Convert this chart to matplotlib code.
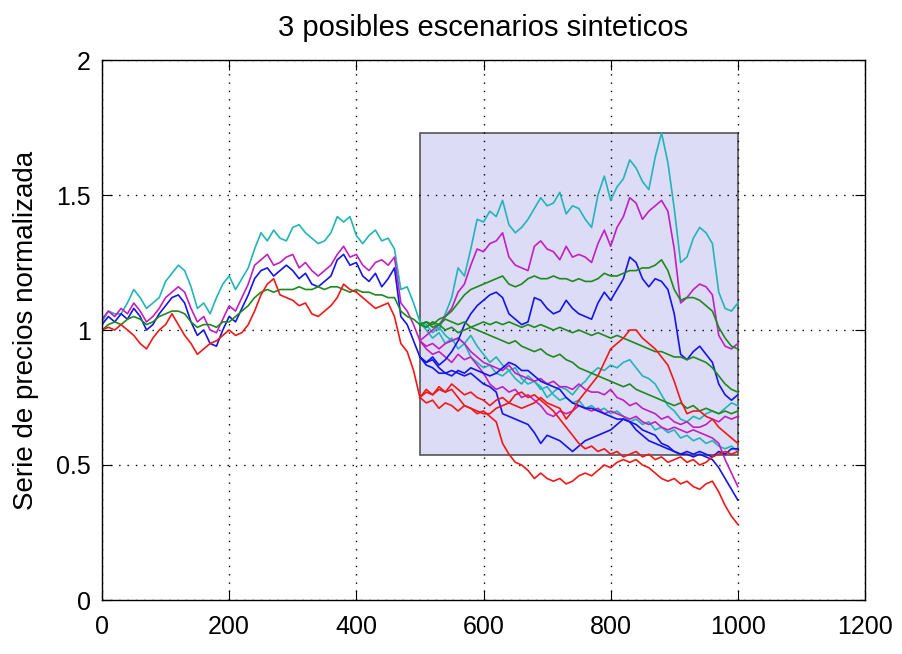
import numpy as np
import matplotlib
matplotlib.use("Agg")
import matplotlib.pyplot as plt
from matplotlib.patches import Rectangle

plt.rcParams['font.family'] = ['Liberation Sans', 'DejaVu Sans']

step = 10

# Common history, t = 0..500
hist_cyan = [1.03, 1.07, 1.06, 1.06, 1.10, 1.15, 1.12, 1.08, 1.10, 1.12, 1.18, 1.21, 1.24, 1.22, 1.16, 1.08,
             1.10, 1.06, 1.12, 1.17, 1.20, 1.15, 1.19, 1.23, 1.30, 1.36, 1.33, 1.37, 1.34, 1.33, 1.38, 1.39,
             1.36, 1.34, 1.32, 1.33, 1.36, 1.42, 1.40, 1.42, 1.35, 1.32, 1.35, 1.37, 1.33, 1.34, 1.30, 1.15,
             1.16, 1.10, 1.03]
hist_magenta = [1.04, 1.07, 1.05, 1.08, 1.06, 1.10, 1.07, 1.03, 1.05, 1.08, 1.12, 1.14, 1.16, 1.14, 1.08, 1.03,
                1.05, 1.00, 0.99, 1.04, 1.09, 1.07, 1.12, 1.17, 1.24, 1.26, 1.28, 1.24, 1.25, 1.27, 1.28, 1.23,
                1.25, 1.22, 1.20, 1.22, 1.24, 1.28, 1.31, 1.27, 1.28, 1.24, 1.22, 1.25, 1.26, 1.24, 1.27, 1.10,
                1.07, 1.02, 0.96]
hist_blue = [1.02, 1.05, 1.03, 1.06, 1.04, 1.08, 1.05, 1.00, 1.02, 1.06, 1.09, 1.12, 1.13, 1.10, 1.03, 0.98,
             1.00, 0.95, 0.94, 1.00, 1.05, 1.03, 1.08, 1.13, 1.19, 1.22, 1.23, 1.20, 1.22, 1.24, 1.22, 1.19,
             1.21, 1.17, 1.16, 1.18, 1.20, 1.26, 1.28, 1.24, 1.25, 1.20, 1.18, 1.21, 1.16, 1.19, 1.23, 1.05,
             1.02, 0.96, 0.90]
hist_green = [1.00, 1.02, 1.03, 1.02, 1.04, 1.05, 1.04, 1.02, 1.03, 1.05, 1.06, 1.07, 1.07, 1.06, 1.03, 1.01,
              1.02, 1.02, 1.01, 1.03, 1.03, 1.05, 1.07, 1.09, 1.12, 1.14, 1.15, 1.14, 1.15, 1.15, 1.15, 1.16,
              1.15, 1.15, 1.16, 1.15, 1.16, 1.16, 1.15, 1.14, 1.15, 1.14, 1.14, 1.13, 1.13, 1.12, 1.12, 1.07,
              1.05, 1.04, 1.02]
hist_red = [1.00, 1.01, 1.00, 1.02, 1.00, 0.98, 0.95, 0.93, 0.97, 1.00, 1.02, 1.06, 1.02, 0.98, 0.95, 0.91,
            0.93, 0.95, 0.96, 0.98, 1.00, 0.98, 0.99, 1.02, 1.07, 1.13, 1.17, 1.19, 1.13, 1.12, 1.11, 1.09,
            1.10, 1.06, 1.05, 1.07, 1.09, 1.12, 1.17, 1.15, 1.14, 1.12, 1.10, 1.08, 1.09, 1.10, 1.05, 0.95,
            0.92, 0.85, 0.75]

# Three synthetic continuations per series, t = 500..1000
cyan_a = [1.03, 1.01, 1.03, 1.00, 1.06, 1.12, 1.23, 1.20, 1.30, 1.41, 1.40, 1.44, 1.42, 1.48, 1.39, 1.36,
          1.38, 1.41, 1.45, 1.49, 1.46, 1.47, 1.51, 1.43, 1.46, 1.45, 1.41, 1.38, 1.50, 1.57, 1.48, 1.53,
          1.56, 1.63, 1.60, 1.55, 1.52, 1.64, 1.73, 1.62, 1.45, 1.25, 1.27, 1.34, 1.38, 1.36, 1.32, 1.14,
          1.08, 1.07, 1.10]
cyan_b = [1.03, 1.00, 0.97, 0.99, 0.95, 0.97, 0.93, 0.95, 0.90, 0.88, 0.86, 0.87, 0.84, 0.83, 0.85, 0.82,
          0.80, 0.83, 0.81, 0.79, 0.75, 0.77, 0.79, 0.78, 0.76, 0.79, 0.81, 0.84, 0.86, 0.85, 0.87, 0.86,
          0.88, 0.89, 0.86, 0.83, 0.82, 0.80, 0.76, 0.72, 0.70, 0.67, 0.66, 0.68, 0.67, 0.69, 0.70, 0.69,
          0.71, 0.73, 0.72]
cyan_c = [1.03, 1.02, 0.99, 1.01, 0.98, 0.96, 0.97, 0.95, 0.98, 0.94, 0.91, 0.88, 0.90, 0.87, 0.85, 0.86,
          0.82, 0.80, 0.81, 0.78, 0.79, 0.76, 0.74, 0.75, 0.73, 0.74, 0.71, 0.72, 0.70, 0.71, 0.69, 0.70,
          0.68, 0.66, 0.67, 0.65, 0.66, 0.63, 0.64, 0.62, 0.63, 0.60, 0.61, 0.59, 0.60, 0.58, 0.59, 0.57,
          0.56, 0.57, 0.55]
magenta_a = [0.96, 0.98, 1.00, 1.02, 1.05, 1.08, 1.14, 1.17, 1.24, 1.30, 1.29, 1.32, 1.33, 1.36, 1.27, 1.24,
             1.23, 1.22, 1.31, 1.33, 1.30, 1.29, 1.26, 1.31, 1.27, 1.28, 1.27, 1.25, 1.32, 1.37, 1.31, 1.38,
             1.42, 1.49, 1.47, 1.41, 1.44, 1.46, 1.48, 1.44, 1.30, 1.10, 1.12, 1.15, 1.17, 1.16, 1.13, 0.98,
             0.94, 0.93, 0.95]
magenta_b = [0.96, 0.94, 0.95, 0.93, 0.95, 0.96, 0.97, 0.95, 0.92, 0.90, 0.88, 0.87, 0.86, 0.85, 0.87, 0.84,
             0.83, 0.82, 0.81, 0.82, 0.80, 0.81, 0.79, 0.79, 0.78, 0.80, 0.78, 0.77, 0.77, 0.76, 0.78, 0.75,
             0.74, 0.72, 0.73, 0.71, 0.70, 0.69, 0.67, 0.68, 0.66, 0.65, 0.66, 0.64, 0.64, 0.65, 0.67, 0.66,
             0.68, 0.67, 0.68]
magenta_c = [0.96, 0.93, 0.91, 0.92, 0.90, 0.88, 0.91, 0.89, 0.90, 0.87, 0.84, 0.80, 0.78, 0.79, 0.77, 0.78,
             0.75, 0.76, 0.74, 0.72, 0.69, 0.68, 0.70, 0.69, 0.70, 0.72, 0.71, 0.70, 0.71, 0.69, 0.70, 0.69,
             0.68, 0.67, 0.68, 0.66, 0.65, 0.66, 0.64, 0.63, 0.64, 0.63, 0.62, 0.63, 0.62, 0.61, 0.60, 0.58,
             0.52, 0.47, 0.42]
blue_a = [0.90, 0.88, 0.90, 0.87, 0.89, 0.92, 0.96, 1.02, 1.06, 1.09, 1.11, 1.13, 1.14, 1.12, 1.06, 1.04,
          1.02, 1.03, 1.12, 1.11, 1.08, 1.06, 1.07, 1.11, 1.08, 1.06, 1.05, 1.04, 1.10, 1.14, 1.11, 1.15,
          1.19, 1.27, 1.25, 1.19, 1.16, 1.19, 1.18, 1.15, 1.06, 0.91, 0.89, 0.92, 0.94, 0.91, 0.88, 0.80,
          0.76, 0.74, 0.76]
blue_b = [0.90, 0.87, 0.86, 0.84, 0.84, 0.83, 0.85, 0.84, 0.86, 0.85, 0.84, 0.83, 0.84, 0.86, 0.88, 0.87,
          0.85, 0.85, 0.83, 0.81, 0.80, 0.79, 0.78, 0.75, 0.73, 0.72, 0.71, 0.71, 0.70, 0.69, 0.68, 0.67,
          0.67, 0.66, 0.65, 0.63, 0.62, 0.61, 0.58, 0.57, 0.55, 0.54, 0.55, 0.54, 0.55, 0.54, 0.53, 0.55,
          0.54, 0.56, 0.56]
blue_c = [0.90, 0.88, 0.89, 0.86, 0.84, 0.85, 0.84, 0.83, 0.84, 0.82, 0.80, 0.79, 0.77, 0.69, 0.68, 0.67,
          0.66, 0.65, 0.62, 0.58, 0.61, 0.60, 0.59, 0.57, 0.55, 0.57, 0.59, 0.60, 0.61, 0.62, 0.63, 0.65,
          0.67, 0.66, 0.63, 0.61, 0.59, 0.58, 0.57, 0.56, 0.55, 0.54, 0.54, 0.53, 0.54, 0.53, 0.52, 0.49,
          0.45, 0.41, 0.37]
green_a = [1.02, 1.03, 1.02, 1.04, 1.05, 1.07, 1.10, 1.13, 1.15, 1.16, 1.17, 1.18, 1.19, 1.20, 1.17, 1.16,
           1.17, 1.19, 1.20, 1.19, 1.19, 1.20, 1.19, 1.19, 1.18, 1.19, 1.18, 1.18, 1.19, 1.21, 1.20, 1.20,
           1.21, 1.22, 1.22, 1.23, 1.23, 1.24, 1.26, 1.22, 1.15, 1.11, 1.12, 1.12, 1.11, 1.09, 1.07, 1.01,
           0.97, 0.94, 0.93]
green_b = [1.02, 1.01, 1.03, 1.02, 1.04, 1.03, 1.02, 1.03, 1.01, 1.02, 1.03, 1.02, 1.03, 1.02, 1.03, 1.02,
           1.01, 1.02, 1.01, 1.02, 1.01, 1.00, 1.01, 1.00, 0.99, 1.00, 0.99, 0.98, 0.99, 0.98, 0.97, 0.98,
           0.97, 0.96, 0.95, 0.94, 0.93, 0.92, 0.92, 0.91, 0.90, 0.90, 0.89, 0.90, 0.89, 0.88, 0.86, 0.83,
           0.80, 0.78, 0.77]
green_c = [1.02, 1.03, 1.01, 1.02, 1.00, 1.01, 0.99, 1.00, 1.01, 1.00, 0.99, 0.98, 0.97, 0.96, 0.95, 0.96,
           0.94, 0.93, 0.92, 0.93, 0.91, 0.90, 0.91, 0.89, 0.88, 0.86, 0.85, 0.84, 0.83, 0.82, 0.81, 0.80,
           0.79, 0.80, 0.78, 0.77, 0.76, 0.75, 0.74, 0.73, 0.72, 0.73, 0.71, 0.72, 0.70, 0.71, 0.70, 0.69,
           0.70, 0.69, 0.70]
red_a = [0.75, 0.77, 0.76, 0.78, 0.77, 0.78, 0.75, 0.72, 0.71, 0.70, 0.69, 0.69, 0.71, 0.72, 0.73, 0.72,
         0.71, 0.72, 0.73, 0.75, 0.73, 0.72, 0.71, 0.67, 0.70, 0.74, 0.77, 0.80, 0.83, 0.88, 0.93, 0.95,
         0.97, 1.00, 1.00, 0.97, 0.95, 0.93, 0.90, 0.87, 0.81, 0.74, 0.69, 0.70, 0.70, 0.68, 0.67, 0.64,
         0.62, 0.60, 0.58]
red_b = [0.75, 0.73, 0.74, 0.71, 0.73, 0.72, 0.70, 0.72, 0.71, 0.69, 0.70, 0.68, 0.66, 0.58, 0.54, 0.51,
         0.50, 0.48, 0.45, 0.47, 0.45, 0.44, 0.45, 0.43, 0.44, 0.46, 0.47, 0.46, 0.48, 0.50, 0.49, 0.51,
         0.52, 0.51, 0.52, 0.50, 0.49, 0.47, 0.45, 0.44, 0.45, 0.43, 0.44, 0.42, 0.41, 0.43, 0.44, 0.40,
         0.35, 0.31, 0.28]
red_c = [0.75, 0.78, 0.76, 0.79, 0.77, 0.80, 0.78, 0.76, 0.77, 0.75, 0.74, 0.72, 0.74, 0.75, 0.73, 0.76,
         0.77, 0.75, 0.76, 0.74, 0.72, 0.70, 0.67, 0.64, 0.61, 0.58, 0.56, 0.57, 0.55, 0.56, 0.54, 0.55,
         0.53, 0.54, 0.55, 0.53, 0.54, 0.52, 0.53, 0.51, 0.52, 0.53, 0.51, 0.52, 0.50, 0.51, 0.53, 0.54,
         0.55, 0.54, 0.55]

# Forecast window shaded on the plot
window_start, window_end = 500, 1000
band_low, band_high = 0.537, 1.73

colors = {
    'c': '#22b5b5',
    'm': '#c020c0',
    'b': '#1515e6',
    'g': '#1e8a1e',
    'r': '#f01818',
}

history = [('c', hist_cyan), ('m', hist_magenta), ('b', hist_blue), ('g', hist_green), ('r', hist_red)]
scenarios = [
    ('c', [cyan_a, cyan_b, cyan_c]),
    ('m', [magenta_a, magenta_b, magenta_c]),
    ('b', [blue_a, blue_b, blue_c]),
    ('g', [green_a, green_b, green_c]),
    ('r', [red_a, red_b, red_c]),
]

fig = plt.figure(figsize=(9.02, 6.54), dpi=100)
ax = fig.add_axes([102 / 902, 1 - 600 / 654, (865 - 102) / 902, (600 - 60) / 654])

ax.add_patch(Rectangle((window_start, band_low), window_end - window_start, band_high - band_low,
                       facecolor='#dcdcf6', edgecolor='#555555', linewidth=1.2, zorder=1))

t_hist = np.arange(len(hist_cyan)) * step
for key, series in history:
    ax.plot(t_hist, series, color=colors[key], linewidth=1.2, zorder=2)

for key, paths in scenarios:
    for path in paths:
        t_fut = window_start + np.arange(len(path)) * step
        ax.plot(t_fut, path, color=colors[key], linewidth=1.2, zorder=2)

ax.set_xlim(0, 1200)
ax.set_ylim(0, 2)
ax.set_xticks([0, 200, 400, 600, 800, 1000, 1200])
ax.set_yticks([0, 0.5, 1, 1.5, 2])
ax.set_yticklabels(['0', '0.5', '1', '1.5', '2'])

ax.grid(True, linestyle=(0, (1, 5)), color='black', linewidth=1.0)
ax.tick_params(direction='in', length=7, width=0.8, top=True, right=True,
               labelsize=18, colors='black')
ax.tick_params(axis='x', pad=11)
ax.tick_params(axis='y', pad=8)
for sp in ax.spines.values():
    sp.set_linewidth(1.0)
    sp.set_color('black')

ax.set_title('3 posibles escenarios sinteticos', fontsize=21, pad=17)
ax.set_ylabel('Serie de precios normalizada', fontsize=20, labelpad=12)

fig.savefig('out.png', dpi=100)
